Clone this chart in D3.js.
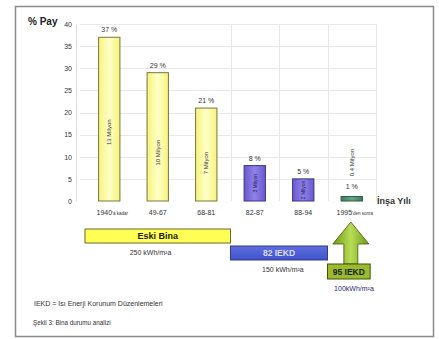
<!DOCTYPE html>
<html>
<head>
<meta charset="utf-8">
<script src="https://cdn.jsdelivr.net/npm/d3@7"></script>
<style>
  html, body { margin: 0; padding: 0; background: #fff; }
  svg { display: block; font-family: "Liberation Sans", Arial, sans-serif; }
</style>
</head>
<body>
<svg id="chart" width="439" height="339"></svg>
<script>
// Construction periods and share of building stock
const categories = ["1940'a kadar", "49-67", "68-81", "82-87", "88-94", "1995'den sonra"];
const catMain = ["1940", "49-67", "68-81", "82-87", "88-94", "1995"];
const catSuffix = ["'a kadar", "", "", "", "", "'den sonra"];
const shares = [37, 29, 21, 8, 5, 1];
const stockLabels = ["13 Milyon", "10 Milyon", "7 Milyon", "3 Milyon", "2 Milyon", "0.4 Milyon"];
const barGroups = ["eski", "eski", "eski", "iekd82", "iekd82", "iekd95"];
const yTicks = [0, 5, 10, 15, 20, 25, 30, 35, 40];

// Regulation periods drawn under the axis
const periods = ["Eski Bina", "82 IEKD", "95 IEKD"];
const periodFrom = ["1940'a kadar", "82-87", "1995'den sonra"];
const periodTo = ["68-81", "88-94", "1995'den sonra"];
const periodEnergy = ["250 kWh/m²a", "150 kWh/m²a", "100kWh/m²a"];

const strokes = { eski: "#77773a", iekd82: "#3d3390", iekd95: "#2c5a40" };

const svg = d3.select("#chart");
const defs = svg.append("defs");

function hGrad(id, c1, c2) {
  const g = defs.append("linearGradient").attr("id", id).attr("x1", "0").attr("x2", "1").attr("y1", "0").attr("y2", "0");
  g.append("stop").attr("offset", "0").attr("stop-color", c1);
  g.append("stop").attr("offset", "0.5").attr("stop-color", c2);
  g.append("stop").attr("offset", "1").attr("stop-color", c1);
}
hGrad("g-eski", "#f6f37a", "#ffffc8");
hGrad("g-iekd82", "#6a58cf", "#8f82e6");
hGrad("g-iekd95", "#3f7a58", "#6aa884");
const vg = defs.append("linearGradient").attr("id", "g-arrow").attr("x1", "0").attr("x2", "1").attr("y1", "0").attr("y2", "0");
vg.append("stop").attr("offset", "0").attr("stop-color", "#6f9a12");
vg.append("stop").attr("offset", "0.5").attr("stop-color", "#b9dc55");
vg.append("stop").attr("offset", "1").attr("stop-color", "#6f9a12");
const bg = defs.append("linearGradient").attr("id", "g-blue").attr("x1", "0").attr("x2", "0").attr("y1", "0").attr("y2", "1");
bg.append("stop").attr("offset", "0").attr("stop-color", "#5d6fe0");
bg.append("stop").attr("offset", "1").attr("stop-color", "#4252c8");

// Outer frame
svg.append("rect").attr("x", 15.5).attr("y", 6.5).attr("width", 418).attr("height", 330)
  .attr("fill", "none").attr("stroke", "#8a8a8a").attr("stroke-width", 1.5);

const x = d3.scaleBand().domain(categories).range([85, 376]).paddingInner(0.56).paddingOuter(0.28);
const y = d3.scaleLinear().domain([0, 40]).range([201, 24]);
const step = x.step();
const bandStart = c => x(c) + x.bandwidth() / 2 - step / 2;

// Gridlines
const grid = svg.append("g").attr("stroke", "#e8e8e8").attr("stroke-width", 1);
grid.selectAll("line.h").data(yTicks.filter(t => t > 0)).join("line")
  .attr("x1", 80).attr("x2", bandStart(categories[5]) + step)
  .attr("y1", d => Math.round(y(d)) + 0.5).attr("y2", d => Math.round(y(d)) + 0.5);
grid.selectAll("line.v").data(categories.slice(3)).join("line")
  .attr("x1", d => Math.round(bandStart(d)) + 0.5).attr("x2", d => Math.round(bandStart(d)) + 0.5)
  .attr("y1", y(40)).attr("y2", y(0));
grid.append("line").attr("x1", Math.round(bandStart(categories[5]) + step) + 0.5)
  .attr("x2", Math.round(bandStart(categories[5]) + step) + 0.5).attr("y1", y(40)).attr("y2", y(0));

// Y axis
const yAxis = d3.axisLeft(y).tickValues(yTicks).tickSize(0).tickPadding(4);
const ya = svg.append("g").attr("transform", "translate(76,0)").call(yAxis);
ya.select(".domain").attr("stroke", "#dddddd");
ya.selectAll("text").attr("font-size", 7).attr("fill", "#333");

svg.append("text").attr("x", 28).attr("y", 25).attr("font-size", 10).attr("font-weight", "bold")
  .attr("fill", "#222").text("% Pay");

// Bars
const data = categories.map((c, i) => ({ c, v: shares[i], g: barGroups[i], s: stockLabels[i], i }));
svg.append("g").selectAll("rect").data(data).join("rect")
  .attr("x", d => x(d.c)).attr("width", x.bandwidth())
  .attr("y", d => y(d.v)).attr("height", d => y(0) - y(d.v))
  .attr("fill", d => `url(#g-${d.g})`).attr("stroke", d => strokes[d.g]).attr("stroke-width", 1);

// Share labels above bars
svg.append("g").selectAll("text").data(data).join("text")
  .attr("x", d => x(d.c) + x.bandwidth() / 2)
  .attr("y", d => y(d.v) - (d.v < 2 ? 8 : 5))
  .attr("text-anchor", "middle").attr("font-size", 7).attr("fill", "#333")
  .text(d => d.v + " %");

// Building counts written vertically
svg.append("g").selectAll("text").data(data).join("text")
  .attr("transform", d => {
    const cx = x(d.c) + x.bandwidth() / 2 + 2;
    let cy = y(d.v) + (y(0) - y(d.v)) * 0.5;
    if (d.v < 2) cy = y(d.v) - 34;
    else if (d.v > 30) cy = y(d.v) + 95;
    else if (d.v > 25) cy = y(d.v) + 80;
    else if (d.v > 15) cy = y(d.v) + 55;
    return `translate(${cx},${cy}) rotate(-90)`;
  })
  .attr("text-anchor", "middle").attr("font-size", d => d.v < 10 && d.v > 2 ? 5 : 6)
  .attr("fill", d => d.g === "iekd82" ? "#1d1660" : "#333")
  .text(d => d.s);

// Category labels
const xl = svg.append("g").selectAll("text").data(data).join("text")
  .attr("x", d => x(d.c) + x.bandwidth() / 2 + (catSuffix[d.i] ? 3 : 0))
  .attr("y", 215).attr("text-anchor", "middle").attr("font-size", 7).attr("fill", "#333");
xl.append("tspan").text(d => catMain[d.i]);
xl.append("tspan").attr("font-size", 4.5).text(d => catSuffix[d.i]);

svg.append("text").attr("x", 377).attr("y", 204).attr("font-size", 9).attr("font-weight", "bold")
  .attr("fill", "#333").text("İnşa Yılı");

// Regulation period boxes
const rowTop = [229, 246, 264];
const rowH = [14, 14, 15];
const boxFill = ["#ffff55", "url(#g-blue)", "#9bbb2a"];
const boxStroke = ["#6b6b2a", "#333a80", "#3d5510"];
const boxText = ["#1a1a1a", "#dcdcff", "#1a1a1a"];
const boxFont = [9, 8.5, 8.5];
const spans = periods.map((p, i) => {
  const x0 = bandStart(periodFrom[i]);
  const x1 = i === 2 ? x0 + step * 0.88 : bandStart(periodTo[i]) + step;
  return { p, i, x0, x1 };
});

// Arrow rising from the 95 IEKD box toward the newest bar
const a = spans[2];
const ac = (a.x0 + a.x1) / 2 + 2;
const arrowPath = d3.path();
arrowPath.moveTo(ac - 7, rowTop[2]);
arrowPath.lineTo(ac - 7, 244);
arrowPath.lineTo(ac - 18, 244);
arrowPath.lineTo(ac, 222);
arrowPath.lineTo(ac + 18, 244);
arrowPath.lineTo(ac + 7, 244);
arrowPath.lineTo(ac + 7, rowTop[2]);
arrowPath.closePath();
svg.append("path").attr("d", arrowPath.toString()).attr("fill", "url(#g-arrow)")
  .attr("stroke", "#3d5a10").attr("stroke-width", 0.8);

svg.append("g").selectAll("rect").data(spans).join("rect")
  .attr("x", d => d.x0).attr("width", d => d.x1 - d.x0)
  .attr("y", d => rowTop[d.i]).attr("height", d => rowH[d.i])
  .attr("fill", d => boxFill[d.i]).attr("stroke", d => boxStroke[d.i]).attr("stroke-width", 1);

svg.append("g").selectAll("text").data(spans).join("text")
  .attr("x", d => (d.x0 + d.x1) / 2)
  .attr("y", d => rowTop[d.i] + rowH[d.i] / 2 + 3.3)
  .attr("text-anchor", "middle").attr("font-size", d => boxFont[d.i]).attr("font-weight", "bold")
  .attr("fill", d => boxText[d.i]).text(d => d.p);

const energyX = [0.45, 0.54, 0.62];
svg.append("g").selectAll("text").data(spans).join("text")
  .attr("x", d => d.x0 + (d.x1 - d.x0) * energyX[d.i])
  .attr("y", d => rowTop[d.i] + rowH[d.i] + 12)
  .attr("text-anchor", "middle").attr("font-size", 7)
  .attr("fill", d => d.i === 2 ? "#2a2a6a" : "#333").text(d => periodEnergy[d.i]);

// Footnotes
svg.append("text").attr("x", 34).attr("y", 306).attr("font-size", 7).attr("fill", "#333")
  .text("IEKD = Isı Enerji Korunum Düzenlemeleri");
svg.append("text").attr("x", 33).attr("y", 325).attr("font-size", 6.3).attr("fill", "#333")
  .text("Şekil 3: Bina durumu analizi");
</script>
</body>
</html>
